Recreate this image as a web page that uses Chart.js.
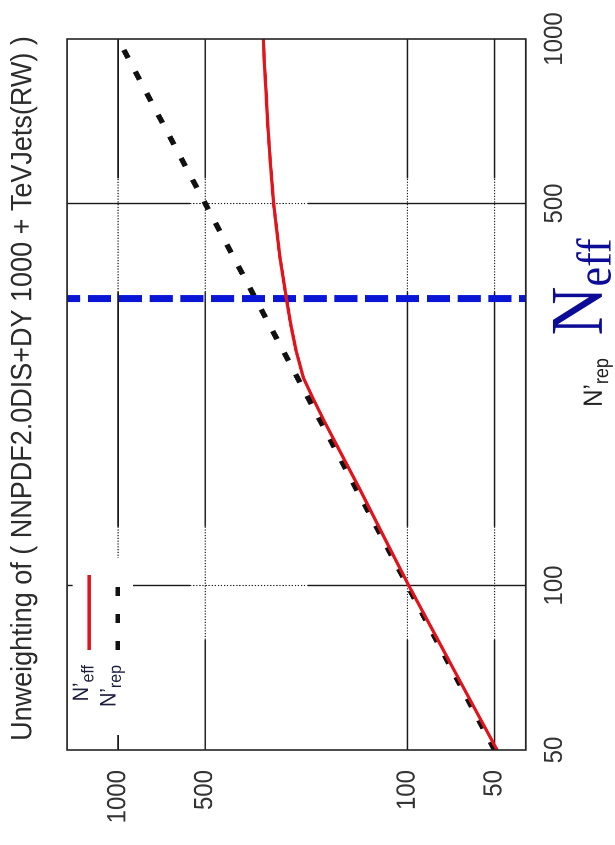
<!DOCTYPE html>
<html lang="en">
<head>
<meta charset="UTF-8">
<title>Unweighting of NNPDF2.0</title>
<script src="https://cdn.jsdelivr.net/npm/chart.js"></script>
<style>
    html, body { margin: 0; padding: 0; background: #fff; overflow: hidden; }
    #page { position: relative; width: 615px; height: 845px; overflow: hidden; }
    /* the plot is drawn upright and then turned a quarter turn, like the original scan */
    #chartBox {
        position: absolute; left: 0; top: 0;
        width: 845px; height: 559px;
        transform-origin: 0 0;
        transform: translate(0px, 845px) rotate(-90deg) scaleY(1.1);
    }
</style>
</head>
<body>
<div id="page">
    <div id="chartBox"><canvas id="unweightCanvas" width="845" height="559"></canvas></div>
</div>
<script>
// N'rep along the curve and the reweighted N'eff
var nRep = [50, 60, 70, 80, 100, 120, 150, 180, 200, 220, 240, 270, 300, 335, 400, 500, 600, 700, 800, 900, 1000];
var nEff = [49, 59, 69, 79, 99, 118, 146, 175, 194, 212, 229, 243, 253, 262, 276, 290, 298, 304, 308, 312, 315];
// reference line N'eff = N'rep
var diagRep = [50, 1000];
var diagEff = [50, 1000];
// vertical marker at N_eff
var markRep = [335, 335];
var markEff = [1500, 39];

var xTicks = [50, 100, 500, 1000];
var yTicks = [50, 100, 500, 1000];
var xRange = [50, 1000];
var yRange = [39, 1500];

var SANS = "'Liberation Sans', Arial, Helvetica, sans-serif";
var SERIF = "'Liberation Serif', 'Times New Roman', serif";

function pts(xs, ys) {
    return xs.map(function (x, i) { return {x: x, y: ys[i]}; });
}

// solid line, dotted inside the fractional bands
function bandedLine(ctx, x0, y0, x1, y1, bands) {
    var cuts = [0];
    bands.forEach(function (b) { cuts.push(b[0], b[1]); });
    cuts.push(1);
    for (var i = 0; i < cuts.length - 1; i++) {
        var f0 = cuts[i], f1 = cuts[i + 1];
        var dotted = i % 2 === 1;
        ctx.beginPath();
        ctx.setLineDash(dotted ? [1.2, 1.6] : []);
        ctx.lineWidth = dotted ? 1.1 : 1.4;
        ctx.moveTo(x0 + (x1 - x0) * f0, y0 + (y1 - y0) * f0);
        ctx.lineTo(x0 + (x1 - x0) * f1, y0 + (y1 - y0) * f1);
        ctx.stroke();
    }
    ctx.setLineDash([]);
}

// text with a subscript part
function drawParts(ctx, parts, x, y, align) {
    var w = 0;
    parts.forEach(function (p) { ctx.font = p.font; p.w = ctx.measureText(p.t).width; w += p.w; });
    var cx = align === 'right' ? x - w : (align === 'center' ? x - w / 2 : x);
    parts.forEach(function (p) {
        ctx.font = p.font;
        ctx.fillText(p.t, cx, y + (p.dy || 0));
        cx += p.w;
    });
}

var gridPlugin = {
    id: 'gridPattern',
    beforeDatasetsDraw: function (chart) {
        var ctx = chart.ctx, a = chart.chartArea, sx = chart.scales.x, sy = chart.scales.y;
        ctx.save();
        ctx.strokeStyle = '#1a1a1a';
        xTicks.forEach(function (v) {
            var px = sx.getPixelForValue(v);
            if (px < a.left + 2 || px > a.right - 2) return;
            bandedLine(ctx, px, a.top, px, a.bottom, [[0.268, 0.525]]);
        });
        yTicks.forEach(function (v) {
            var py = sy.getPixelForValue(v);
            if (py < a.top + 2 || py > a.bottom - 2) return;
            bandedLine(ctx, a.left, py, a.right, py, [[0.155, 0.314], [0.644, 0.804]]);
        });
        // key box
        ctx.fillStyle = '#fff';
        ctx.fillRect(a.left + 15, a.top + 5, 177, 55);
        ctx.restore();
    }
};

var textPlugin = {
    id: 'texts',
    afterDatasetsDraw: function (chart) {
        var ctx = chart.ctx, a = chart.chartArea, sx = chart.scales.x;
        ctx.save();
        // frame
        ctx.strokeStyle = '#222';
        ctx.lineWidth = 1.6;
        ctx.strokeRect(a.left, a.top, a.right - a.left, a.bottom - a.top);

        ctx.textAlign = 'left';
        ctx.textBaseline = 'alphabetic';

        // key
        var ds = chart.data.datasets;
        ctx.fillStyle = '#1c1c3c';
        drawParts(ctx, [{t: 'N\u2019', font: '20px ' + SANS}, {t: 'eff', font: '16px ' + SANS, dy: 5}],
            a.left + 85, a.top + 19, 'right');
        drawParts(ctx, [{t: 'N\u2019', font: '20px ' + SANS}, {t: 'rep', font: '16px ' + SANS, dy: 5}],
            a.left + 85, a.top + 44, 'right');
        ctx.lineWidth = 3;
        ctx.strokeStyle = ds[0].borderColor;
        ctx.beginPath();
        ctx.moveTo(a.left + 100, a.top + 20);
        ctx.lineTo(a.left + 175, a.top + 20);
        ctx.stroke();
        ctx.lineWidth = 4;
        ctx.strokeStyle = ds[1].borderColor;
        ctx.setLineDash([9, 18]);
        ctx.beginPath();
        ctx.moveTo(a.left + 100, a.top + 46);
        ctx.lineTo(a.left + 165, a.top + 46);
        ctx.stroke();
        ctx.setLineDash([]);

        // title
        ctx.fillStyle = '#2c2c2c';
        ctx.font = '27px ' + SANS;
        ctx.textAlign = 'center';
        ctx.textBaseline = 'middle';
        ctx.fillText('Unweighting of ( NNPDF2.0DIS+DY 1000 + TeVJets(RW) )', (a.left + a.right) / 2 + 6, 21);

        // axis title
        ctx.textAlign = 'left';
        ctx.textBaseline = 'alphabetic';
        ctx.fillStyle = '#222';
        drawParts(ctx, [{t: 'N\u2019', font: '24px ' + SANS}, {t: 'rep', font: '18px ' + SANS, dy: 6}],
            (a.left + a.right) / 2 + 12, a.bottom + 69, 'center');

        // N_eff marker label
        var mx = sx.getPixelForValue(markRep[0]);
        ctx.fillStyle = '#0c0c96';
        drawParts(ctx, [{t: 'N', font: '68px ' + SERIF}, {t: 'eff', font: '44px ' + SERIF, dy: 8}],
            mx - 37, a.bottom + 69, 'left');
        ctx.restore();
    }
};

var ctx = document.getElementById('unweightCanvas').getContext('2d');
var unweightChart = new Chart(ctx, {
    type: 'scatter',
    data: {
        datasets: [{
            label: "N'eff",
            data: pts(nRep, nEff),
            showLine: true,
            borderColor: '#e3131b',
            borderWidth: 3,
            pointRadius: 0,
            tension: 0,
            order: 0
        }, {
            label: "N'rep",
            data: pts(diagRep, diagEff),
            showLine: true,
            borderColor: '#111',
            borderWidth: 5,
            borderDash: [9, 15],
            pointRadius: 0,
            order: 2
        }, {
            label: 'Neff',
            data: pts(markRep, markEff),
            showLine: true,
            borderColor: '#0a16d6',
            borderWidth: 7,
            borderDash: [21, 7],
            borderDashOffset: 9,
            pointRadius: 0,
            order: 1
        }]
    },
    options: {
        responsive: false,
        animation: false,
        devicePixelRatio: 2,
        layout: { padding: { top: 61, right: 39, left: 0, bottom: 0 } },
        plugins: {
            legend: { display: false },
            tooltip: { enabled: false },
            title: { display: false }
        },
        scales: {
            x: {
                type: 'logarithmic',
                min: xRange[0],
                max: xRange[1],
                grid: { display: false, drawTicks: false },
                border: { display: false },
                afterBuildTicks: function (s) { s.ticks = xTicks.map(function (v) { return {value: v}; }); },
                afterFit: function (s) { s.height = 81; },
                ticks: {
                    autoSkip: false,
                    maxRotation: 0,
                    padding: 12,
                    color: '#333',
                    font: { family: SANS, size: 24 },
                    callback: function (v) { return String(v); }
                }
            },
            y: {
                type: 'logarithmic',
                min: yRange[0],
                max: yRange[1],
                grid: { display: false, drawTicks: false },
                border: { display: false },
                afterBuildTicks: function (s) { s.ticks = yTicks.map(function (v) { return {value: v}; }); },
                afterFit: function (s) { s.width = 95; },
                ticks: {
                    autoSkip: false,
                    padding: 20,
                    color: '#333',
                    font: { family: SANS, size: 24 },
                    callback: function (v) { return String(v); }
                }
            }
        }
    },
    plugins: [gridPlugin, textPlugin]
});
</script>
</body>
</html>
